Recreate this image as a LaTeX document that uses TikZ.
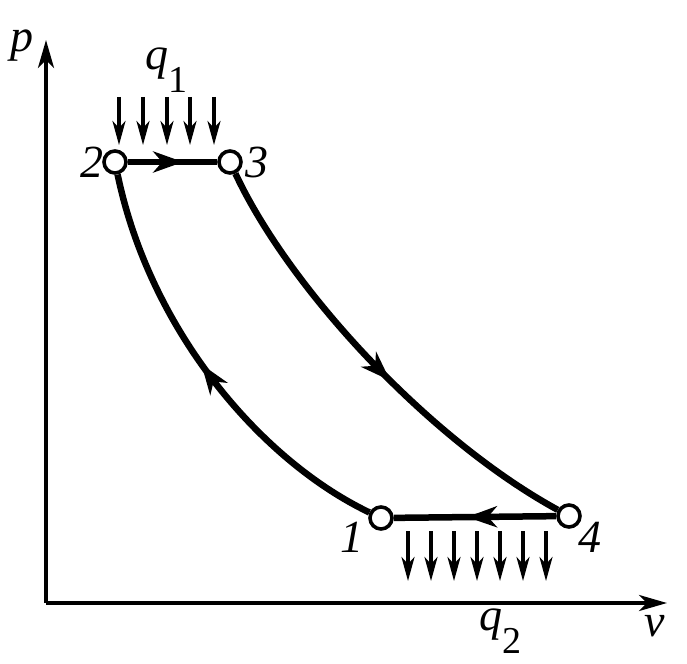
\documentclass[tikz,border=0pt]{standalone}
\usepackage{fontspec}
\setmainfont{Liberation Serif}
\usetikzlibrary{arrows.meta, decorations.markings}

\tikzset{
  state/.style={circle, draw, fill=white, line width=3.6pt, minimum size=22pt, inner sep=0pt},
  lbl/.style={font=\fontsize{46}{50}\selectfont\itshape, inner sep=0pt},
  sub/.style={font=\fontsize{38}{40}\selectfont\upshape, inner sep=0pt},
  cyc/.style={line width=6.5pt},
  midarrow/.style={postaction={decorate}, decoration={markings,
      mark=at position #1 with {\arrow{Stealth[length=30pt, width=21pt, inset=9pt]}}}},
  heat/.style={-{Stealth[length=24pt, width=13pt, inset=7pt]}, line width=3.2pt},
}

\begin{document}
\begin{tikzpicture}[x=1pt, y=-1pt]
      \useasboundingbox (0,0) rectangle (687,663);

      % axes
      \coordinate (O) at (46,603);
      \coordinate (ptop) at (46,40);
      \coordinate (vend) at (667,603);
      \draw[-{Stealth[length=28pt, width=16pt, inset=8pt]}, line width=4pt] (O) -- (ptop);
      \draw[-{Stealth[length=28pt, width=16pt, inset=8pt]}, line width=4pt] (O) -- (vend);
      \node[lbl] (plbl) at (22,46) {p};
      \node[lbl] (vlbl) at (655,626) {v};

      % states
      \node[state] (s1) at (381,518) {};
      \node[state] (s2) at (115,162) {};
      \node[state] (s3) at (230,162) {};
      \node[state] (s4) at (569,516) {};
      \node[lbl] at (92,162) {2};
      \node[lbl] at (257,162) {3};
      \node[lbl] at (352,537) {1};
      \node[lbl] at (590,537) {4};

      % cycle
      \draw[cyc, midarrow=0.52] (s1) .. controls (260,460) and (150,330) .. (s2);
      \draw[cyc, midarrow=0.62] (s2) -- (s3);
      \draw[cyc, midarrow=0.55] (s3) .. controls (290,290) and (430,440) .. (s4);
      \draw[cyc, midarrow=0.55] (s4) -- (s1);

      % heat in / out
      \foreach \x in {119,143,167,190,214}
        \draw[heat] (\x,97) -- (\x,145);
      \foreach \x in {408,431,454,477,500,523,546}
        \draw[heat] (\x,531) -- (\x,581);
      \node[lbl] (q1) at (157,64) {q};
      \node[sub] (q1s) at (178,80) {1};
      \node[lbl] (q2) at (491,625) {q};
      \node[sub] (q2s) at (512,641) {2};
    \end{tikzpicture}
\end{document}
